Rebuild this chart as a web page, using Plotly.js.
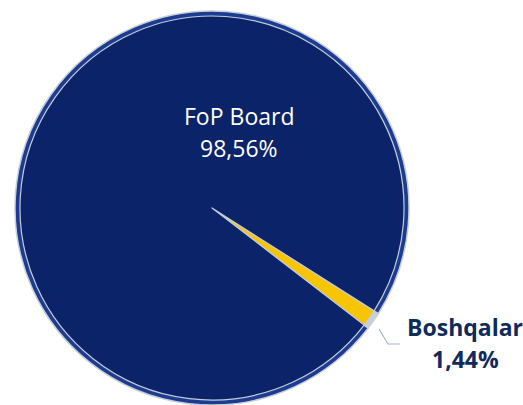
<!DOCTYPE html>
<html>
<head>
<meta charset="utf-8">
<script src="https://cdn.plot.ly/plotly-3.0.1.min.js"></script>
<style>
html,body{margin:0;padding:0;background:#fff;overflow:hidden;}
#chart{width:523px;height:405px;}
</style>
</head>
<body>
<div id="chart"></div>
<script>
const categories = ["Boshqalar", "FoP Board"];
const values = [1.44, 98.56];
const sliceColors = ["#f7c600", "#0a2369"];
const labelColors = ["#0f2a5c", "#ffffff"];

function fmt(v){ return v.toFixed(2).replace(".", ",") + "%"; }

const W = 523, H = 405;
const px = x => x / W;
const py = y => 1 - y / H;

const rim = {
  type: "pie",
  labels: categories,
  values: values,
  sort: false,
  direction: "clockwise",
  rotation: 122.4,
  textinfo: "none",
  hoverinfo: "skip",
  marker: { colors: ["#c9cfd9", "#1c3c92"], line: { color: "#c9ced8", width: 1.5 } },
  domain: { x: [px(15), px(409)], y: [0, py(11)] },
  showlegend: false
};

const trace = {
  type: "pie",
  labels: categories,
  values: values,
  sort: false,
  direction: "clockwise",
  rotation: 122.4,
  textinfo: "none",
  hoverinfo: "label+percent",
  marker: { colors: sliceColors, line: { color: "#c6ccd8", width: 1.2 } },
  domain: { x: [px(20), px(404)], y: [py(400), py(16)] },
  showlegend: false
};

const labelPos = [
  { x: 465, y1: 327, y2: 359 },
  { x: 239, y1: 116, y2: 148 }
];
const annotations = [];
categories.forEach((c, i) => {
  const p = labelPos[i];
  const bold = i === 0;
  annotations.push({
    xref: "paper", yref: "paper", x: px(p.x), y: py(p.y1),
    xanchor: "center", yanchor: "middle", showarrow: false,
    text: bold ? "<b>" + c + "</b>" : c,
    font: { family: "Open Sans, sans-serif", size: 23, color: labelColors[i] }
  });
  annotations.push({
    xref: "paper", yref: "paper", x: px(p.x), y: py(p.y2),
    xanchor: "center", yanchor: "middle", showarrow: false,
    text: bold ? "<b>" + fmt(values[i]) + "</b>" : fmt(values[i]),
    font: { family: "Open Sans, sans-serif", size: 23, color: labelColors[i] }
  });
});

const layout = {
  width: W, height: H,
  margin: { l: 0, r: 0, t: 0, b: 0 },
  paper_bgcolor: "#ffffff",
  annotations: annotations,
  shapes: [{
    type: "path", xref: "paper", yref: "paper",
    path: "M " + px(379) + "," + py(329) + " L " + px(388) + "," + py(344) + " L " + px(400) + "," + py(344),
    line: { color: "#aab6c8", width: 1.2 }
  }]
};

Plotly.newPlot("chart", [rim, trace], layout, { displayModeBar: false, staticPlot: true });
</script>
</body>
</html>
